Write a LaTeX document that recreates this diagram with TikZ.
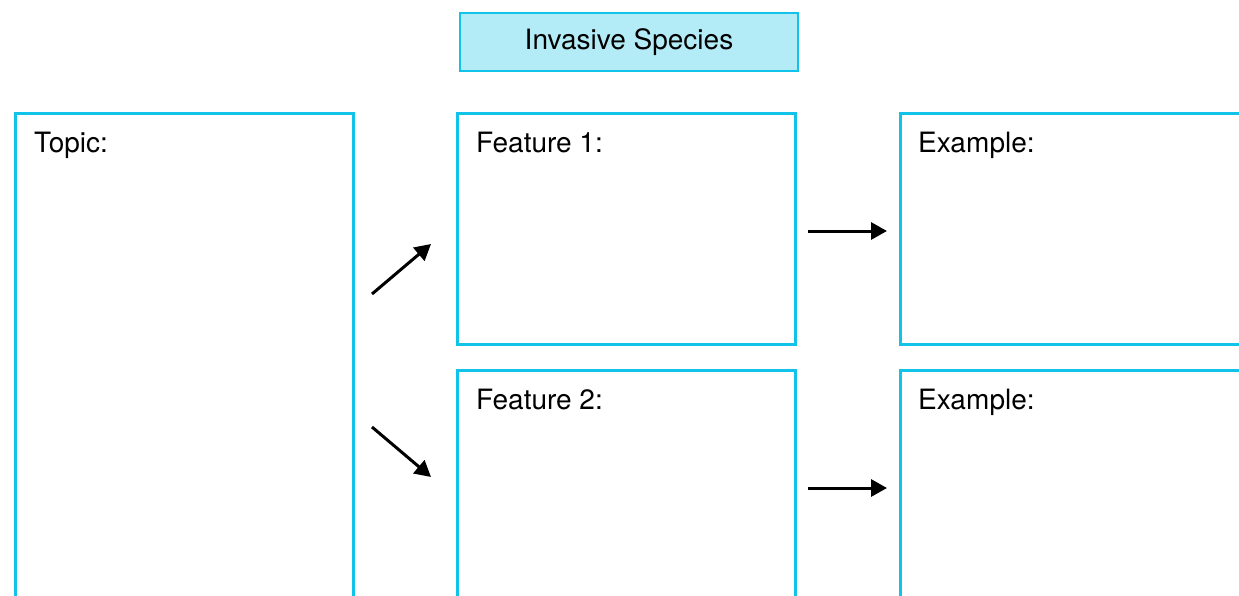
\documentclass[tikz,border=0pt]{standalone}
\usepackage{fontspec}
\setmainfont{TeX Gyre Heros}
\usetikzlibrary{arrows.meta}
\definecolor{frame}{HTML}{11C3E8}
\definecolor{titlefill}{HTML}{B3EBF6}
\tikzset{
  panel/.style={draw=frame, line width=2.6pt, fill=white, inner sep=0pt, anchor=north west},
  titlebox/.style={draw=frame, line width=2.6pt, fill=titlefill, inner sep=0pt,
    minimum width=338pt, minimum height=58pt, font=\fontsize{28}{32}\selectfont},
  caption/.style={anchor=base west, inner sep=0pt, font=\fontsize{28}{32}\selectfont},
  flow/.style={line width=3pt, -{Triangle[length=16pt,width=17pt]}}
}
\begin{document}
\begin{tikzpicture}[x=1pt,y=-1pt]
\useasboundingbox (0,0) rectangle (1239,595);
\clip (0,0) rectangle (1239,595);
\fill[white] (0,0) rectangle (1239,595);

% heading
\node[titlebox] (title) at (629,42) {Invasive Species};

% panels
\node[panel, minimum width=338pt, minimum height=540pt] (topic) at (14,112) {};
\node[panel, minimum width=338pt, minimum height=231pt] (feat1) at (456,112) {};
\node[panel, minimum width=338pt, minimum height=300pt] (feat2) at (456,369) {};
\node[panel, minimum width=400pt, minimum height=231pt] (ex1) at (899,112) {};
\node[panel, minimum width=400pt, minimum height=300pt] (ex2) at (899,369) {};

% panel captions
\node[caption] (topiclbl) at (34,152) {Topic:};
\node[caption] (feat1lbl) at (476,152) {Feature 1:};
\node[caption] (feat2lbl) at (476,409) {Feature 2:};
\node[caption] (ex1lbl) at (918,152) {Example:};
\node[caption] (ex2lbl) at (918,409) {Example:};

% arrow ends
\coordinate (a1s) at (372,294);
\coordinate (a1e) at (431,244);
\coordinate (a2s) at (372,427);
\coordinate (a2e) at (431,477);
\coordinate (a3s) at (808,231);
\coordinate (a3e) at (887,231);
\coordinate (a4s) at (808,488);
\coordinate (a4e) at (887,488);

\draw[flow] (a1s) -- (a1e);
\draw[flow] (a2s) -- (a2e);
\draw[flow] (a3s) -- (a3e);
\draw[flow] (a4s) -- (a4e);
\end{tikzpicture}
\end{document}
